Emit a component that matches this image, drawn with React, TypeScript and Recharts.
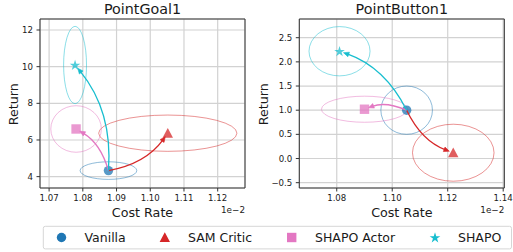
import React from 'react';
import {
  ScatterChart,
  Scatter,
  XAxis,
  YAxis,
  CartesianGrid,
  ReferenceArea,
} from 'recharts';

// ---------- data ----------
const METHODS = ['Vanilla', 'SAM Critic', 'SHAPO Actor', 'SHAPO'];
const COLORS = ['#1f77b4', '#d62728', '#e377c2', '#17becf'];
const MARKERS = ['circle', 'triangle', 'square', 'star'];

// PointGoal1 (cost rate in units of 1e-2)
const goalCost = [1.0876, 1.1052, 1.078, 1.0777];
const goalReturn = [4.33, 6.37, 6.6, 10.09];
const goalCostStd = [0.0084, 0.0205, 0.0075, 0.0034];
const goalReturnStd = [0.48, 0.99, 1.27, 2.11];
const goalXTicks = [1.07, 1.08, 1.09, 1.1, 1.11, 1.12];
const goalYTicks = [4, 6, 8, 10, 12];
const goalXDomain: [number, number] = [1.0673, 1.1281];
const goalYDomain: [number, number] = [3.38, 12.6];

// PointButton1
const buttonCost = [1.1052, 1.122, 1.09, 1.081];
const buttonReturn = [1.0, 0.12, 1.02, 2.22];
const buttonCostStd = [0.0093, 0.0147, 0.0155, 0.011];
const buttonReturnStd = [0.5, 0.59, 0.27, 0.51];
const buttonXTicks = [1.08, 1.1, 1.12, 1.14];
const buttonYTicks = [-0.5, 0, 0.5, 1, 1.5, 2, 2.5];
const buttonXDomain: [number, number] = [1.0665, 1.1404];
const buttonYDomain: [number, number] = [-0.61, 2.887];

const FONT = 'DejaVu Sans, Verdana, sans-serif';
const TXT = '#1a1a1a';

// ---------- marker glyphs ----------
function starPath(cx: number, cy: number, R: number) {
  const r = R * 0.382;
  let d = '';
  for (let i = 0; i < 10; i++) {
    const rad = i % 2 === 0 ? R : r;
    const a = -Math.PI / 2 + (i * Math.PI) / 5;
    d += (i === 0 ? 'M' : 'L') + (cx + rad * Math.cos(a)).toFixed(2) + ',' + (cy + rad * Math.sin(a)).toFixed(2);
  }
  return d + 'Z';
}

function Marker({ kind, cx, cy, color, opacity }: { kind: string; cx: number; cy: number; color: string; opacity: number }) {
  if (kind === 'circle') return <circle cx={cx} cy={cy} r={4.7} fill={color} fillOpacity={opacity} />;
  if (kind === 'triangle')
    return <path d={`M${cx},${cy - 5.2}L${cx + 5.2},${cy + 4.6}L${cx - 5.2},${cy + 4.6}Z`} fill={color} fillOpacity={opacity} />;
  if (kind === 'square') return <rect x={cx - 4.7} y={cy - 4.7} width={9.4} height={9.4} fill={color} fillOpacity={opacity} />;
  return <path d={starPath(cx, cy + 0.4, 5.6)} fill={color} fillOpacity={opacity} />;
}

// ---------- line renderers (points come from the chart scales) ----------
const makeEllipse = (color: string) => (props: any) => {
  const pts = props.points || [];
  if (pts.length < 2) return <g />;
  const [c, e] = pts;
  return (
    <ellipse
      cx={c.x}
      cy={c.y}
      rx={Math.abs(e.x - c.x)}
      ry={Math.abs(e.y - c.y)}
      fill="none"
      stroke={color}
      strokeOpacity={0.5}
      strokeWidth={1}
    />
  );
};

const makeArrow = (color: string) => (props: any) => {
  const pts = props.points || [];
  if (pts.length < 2) return <g />;
  const p0 = pts[0];
  const p2 = pts[1];
  const rad = 0.2;
  const mx = (p0.x + p2.x) / 2;
  const my = (p0.y + p2.y) / 2;
  const dx = p2.x - p0.x;
  const dy = p2.y - p0.y;
  const cx = mx - rad * dy;
  const cy = my + rad * dx;
  // end tangent
  let ux = p2.x - cx;
  let uy = p2.y - cy;
  const ul = Math.hypot(ux, uy) || 1;
  ux /= ul;
  uy /= ul;
  const shrinkB = 4.2;
  const headL = 5.5;
  const headW = 2.4;
  const tipX = p2.x - ux * shrinkB;
  const tipY = p2.y - uy * shrinkB;
  const bx = tipX - ux * headL;
  const by = tipY - uy * headL;
  const nx = -uy;
  const ny = ux;
  const d = `M${p0.x},${p0.y}Q${cx},${cy} ${bx + ux * 1.5},${by + uy * 1.5}`;
  const head = `M${tipX},${tipY}L${bx + nx * headW},${by + ny * headW}L${bx - nx * headW},${by - ny * headW}Z`;
  return (
    <g>
      <path d={d} fill="none" stroke={color} strokeWidth={1.3} />
      <path d={head} fill={color} stroke={color} strokeWidth={0.6} />
    </g>
  );
};

const hidden = () => <g />;

interface PanelProps {
  width: number;
  yAxisWidth: number;
  rightMargin: number;
  cost: number[];
  ret: number[];
  costStd: number[];
  retStd: number[];
  xTicks: number[];
  yTicks: number[];
  xDomain: [number, number];
  yDomain: [number, number];
  yFmt: (v: number) => string;
}

function Panel(p: PanelProps) {
  const pts = METHODS.map((_, i) => ({ x: p.cost[i], y: p.ret[i] }));
  const tickStyle = { fontSize: 8.6, fill: TXT, fontFamily: FONT };
  return (
    <ScatterChart
      width={p.width}
      height={225}
      margin={{ top: 19, right: p.rightMargin, bottom: 0, left: 0 }}
    >
      <CartesianGrid stroke="#d2d2d2" strokeWidth={1.2} />
      <XAxis
        type="number"
        dataKey="x"
        domain={p.xDomain}
        ticks={p.xTicks}
        interval={0}
        height={37}
        tickSize={3.5}
        tickMargin={3.5}
        axisLine={false}
        tickLine={{ stroke: '#333' }}
        tick={tickStyle}
        tickFormatter={(v: number) => v.toFixed(2)}
      />
      <YAxis
        type="number"
        dataKey="y"
        domain={p.yDomain}
        ticks={p.yTicks}
        interval={0}
        width={p.yAxisWidth}
        tickSize={3.5}
        tickMargin={3.5}
        axisLine={false}
        tickLine={{ stroke: '#333' }}
        tick={tickStyle}
        tickFormatter={p.yFmt}
      />
      {METHODS.map((m, i) => (
        <Scatter
          key={'ell' + m}
          data={[pts[i], { x: p.cost[i] + p.costStd[i], y: p.ret[i] + p.retStd[i] }]}
          line={makeEllipse(COLORS[i])}
          lineType="joint"
          shape={hidden}
          isAnimationActive={false}
          legendType="none"
        />
      ))}
      {METHODS.map((m, i) => (
        <Scatter
          key={'pt' + m}
          data={[pts[i]]}
          shape={(s: any) => <Marker kind={MARKERS[i]} cx={s.cx} cy={s.cy} color={COLORS[i]} opacity={0.75} />}
          isAnimationActive={false}
          legendType="none"
        />
      ))}
      {METHODS.slice(1).map((m, j) => (
        <Scatter
          key={'arr' + m}
          data={[pts[0], pts[j + 1]]}
          line={makeArrow(COLORS[j + 1])}
          lineType="joint"
          shape={hidden}
          isAnimationActive={false}
          legendType="none"
        />
      ))}
      <ReferenceArea
        x1={p.xDomain[0]}
        x2={p.xDomain[1]}
        y1={p.yDomain[0]}
        y2={p.yDomain[1]}
        fill="none"
        fillOpacity={0}
        stroke="#333"
        strokeWidth={1}
      />
    </ScatterChart>
  );
}

const minus = (s: string) => s.replace('-', '\u2212');

export default function App() {
  const legendX = [61.5, 164.8, 291.7, 435];
  const legendTextX = [84.5, 188, 315, 458];
  return (
    <div style={{ position: 'absolute', left: 0, top: 0, width: 513, height: 252, background: '#fff', overflow: 'hidden' }}>
      <div style={{ position: 'absolute', left: 0, top: 0 }}>
        <Panel
          width={255}
          yAxisWidth={40}
          rightMargin={10}
          cost={goalCost}
          ret={goalReturn}
          costStd={goalCostStd}
          retStd={goalReturnStd}
          xTicks={goalXTicks}
          yTicks={goalYTicks}
          xDomain={goalXDomain}
          yDomain={goalYDomain}
          yFmt={(v) => minus(String(v))}
        />
      </div>
      <div style={{ position: 'absolute', left: 255, top: 0 }}>
        <Panel
          width={258}
          yAxisWidth={44.3}
          rightMargin={8.7}
          cost={buttonCost}
          ret={buttonReturn}
          costStd={buttonCostStd}
          retStd={buttonReturnStd}
          xTicks={buttonXTicks}
          yTicks={buttonYTicks}
          xDomain={buttonXDomain}
          yDomain={buttonYDomain}
          yFmt={(v) => minus(v.toFixed(1))}
        />
      </div>
      <svg width={513} height={252} style={{ position: 'absolute', left: 0, top: 0, pointerEvents: 'none' }}>
        <g fontFamily={FONT} fill={TXT}>
          <text x={142.5} y={14.3} fontSize={14.3} textAnchor="middle">PointGoal1</text>
          <text x={401.8} y={14.3} fontSize={14.3} textAnchor="middle">PointButton1</text>
          <text x={142.5} y={217.3} fontSize={12.7} textAnchor="middle">Cost Rate</text>
          <text x={401.8} y={217.3} fontSize={12.7} textAnchor="middle">Cost Rate</text>
          <text x={245} y={213} fontSize={8.8} textAnchor="end">1e{'\u2212'}2</text>
          <text x={504.3} y={213} fontSize={8.8} textAnchor="end">1e{'\u2212'}2</text>
          <text x={0} y={0} fontSize={12.7} textAnchor="middle" transform="translate(17.8,104.3) rotate(-90)">Return</text>
          <text x={0} y={0} fontSize={12.7} textAnchor="middle" transform="translate(267.5,104.3) rotate(-90)">Return</text>
        </g>
        <rect x={43.3} y={226.3} width={468.2} height={22.6} rx={2} fill="#fff" fillOpacity={0.8} stroke="#d6d6d6" strokeWidth={1} />
        {METHODS.map((m, i) => (
          <g key={m}>
            <Marker kind={MARKERS[i]} cx={legendX[i]} cy={237.5} color={COLORS[i]} opacity={1} />
            <text x={legendTextX[i]} y={242.2} fontSize={12.5} fontFamily={FONT} fill={TXT}>{m}</text>
          </g>
        ))}
      </svg>
    </div>
  );
}
